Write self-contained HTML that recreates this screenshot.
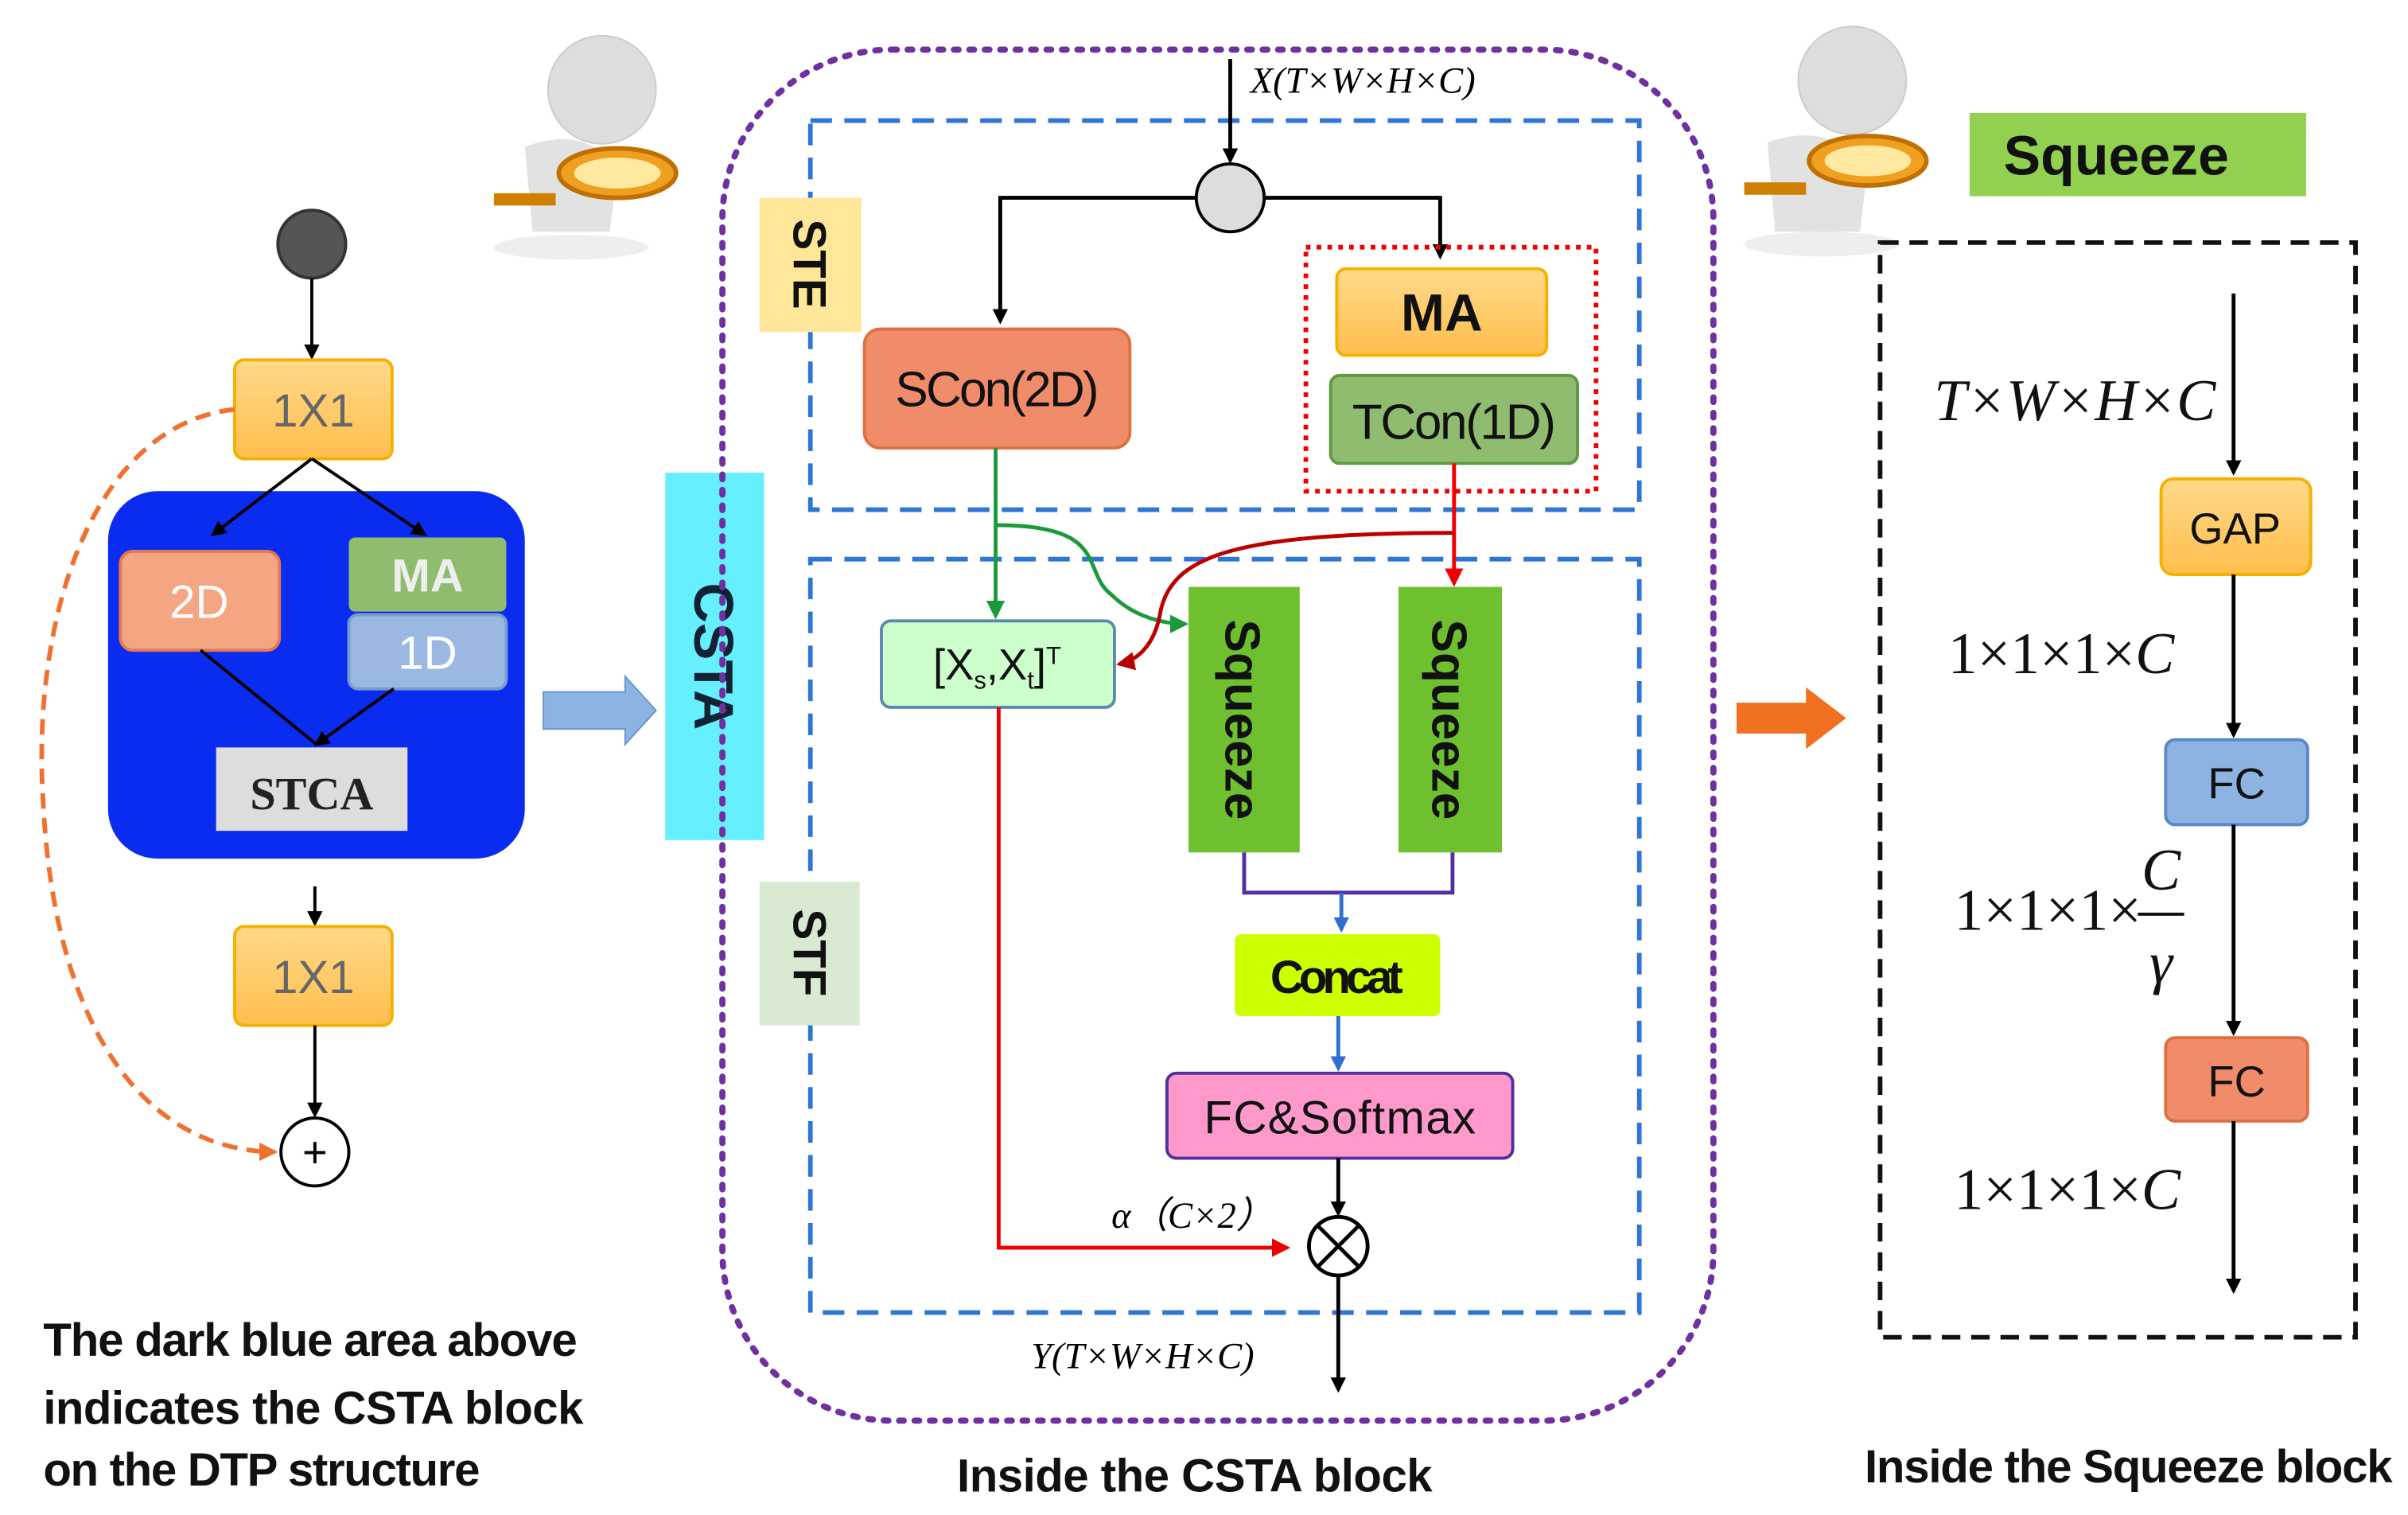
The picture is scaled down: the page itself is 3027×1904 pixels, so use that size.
<!DOCTYPE html>
<html><head><meta charset="utf-8"><style>
html,body{margin:0;padding:0;background:#fff;}
svg{display:block;}
text{font-family:"Liberation Sans",sans-serif;}
.b{font-weight:bold;}
.s{font-family:"Liberation Serif",serif;font-style:italic;}
</style></head><body>
<svg width="3027" height="1904" viewBox="0 0 1560 981" xmlns="http://www.w3.org/2000/svg">
<defs>
<marker id="ak" markerWidth="10" markerHeight="10" refX="8" refY="5" orient="auto" markerUnits="userSpaceOnUse"><path d="M0,0 L10,5 L0,10 z" fill="#000"/></marker>
<marker id="ar" markerWidth="12" markerHeight="12" refX="10" refY="6" orient="auto" markerUnits="userSpaceOnUse"><path d="M0,0 L12,6 L0,12 z" fill="#e00"/></marker>
<marker id="ad" markerWidth="12" markerHeight="12" refX="10" refY="6" orient="auto" markerUnits="userSpaceOnUse"><path d="M0,0 L12,6 L0,12 z" fill="#b00"/></marker>
<marker id="ag" markerWidth="12" markerHeight="12" refX="10" refY="6" orient="auto" markerUnits="userSpaceOnUse"><path d="M0,0 L12,6 L0,12 z" fill="#1a9a3a"/></marker>
<marker id="ab" markerWidth="10" markerHeight="10" refX="8" refY="5" orient="auto" markerUnits="userSpaceOnUse"><path d="M0,0 L10,5 L0,10 z" fill="#2e6fd0"/></marker>
<marker id="ao" markerWidth="12" markerHeight="12" refX="10" refY="6" orient="auto" markerUnits="userSpaceOnUse"><path d="M0,0 L12,6 L0,12 z" fill="#f07030"/></marker>
<linearGradient id="go" x1="0" y1="0" x2="0" y2="1"><stop offset="0" stop-color="#ffd98a"/><stop offset="1" stop-color="#ffbe4d"/></linearGradient>
</defs>

<!-- LEFT -->
<circle cx="202" cy="158" r="22" fill="#555" stroke="#333" stroke-width="2"/>
<line x1="202" y1="180" x2="202" y2="231" stroke="#000" stroke-width="2" marker-end="url(#ak)"/>
<rect x="152" y="233" width="102" height="64" rx="6" fill="url(#go)" stroke="#f5b000" stroke-width="2"/>
<text x="203" y="276" font-size="30" fill="#666" text-anchor="middle">1X1</text>
<rect x="70" y="318" width="270" height="238" rx="32" fill="#0a2cf0"/>
<line x1="202" y1="297" x2="138" y2="346" stroke="#000" stroke-width="2" marker-end="url(#ak)"/>
<line x1="202" y1="297" x2="275" y2="346" stroke="#000" stroke-width="2" marker-end="url(#ak)"/>
<rect x="78" y="357" width="103" height="64" rx="8" fill="#f4a582" stroke="#e67850" stroke-width="2"/>
<text x="129" y="400" font-size="30" fill="#fff" text-anchor="middle">2D</text>
<rect x="226" y="348" width="102" height="48" rx="4" fill="#8fbc6f"/>
<text x="277" y="383" font-size="30" fill="#eee" text-anchor="middle" class="b">MA</text>
<rect x="226" y="398" width="102" height="48" rx="6" fill="#9bb9e0" stroke="#7a9ccc" stroke-width="2"/>
<text x="277" y="433" font-size="30" fill="#fff" text-anchor="middle">1D</text>
<line x1="130" y1="421" x2="205" y2="482" stroke="#000" stroke-width="2"/>
<line x1="255" y1="446" x2="205" y2="482" stroke="#000" stroke-width="2" marker-end="url(#ak)"/>
<rect x="140" y="484" width="124" height="54" fill="#ddd"/>
<text x="202" y="524" font-size="30" fill="#222" text-anchor="middle" font-family="Liberation Serif" style="font-family:'Liberation Serif',serif;font-weight:bold">STCA</text>
<line x1="204" y1="574" x2="204" y2="598" stroke="#000" stroke-width="2" marker-end="url(#ak)"/>
<rect x="152" y="600" width="102" height="64" rx="6" fill="url(#go)" stroke="#f5b000" stroke-width="2"/>
<text x="203" y="643" font-size="30" fill="#666" text-anchor="middle">1X1</text>
<line x1="204" y1="664" x2="204" y2="722" stroke="#000" stroke-width="2" marker-end="url(#ak)"/>
<circle cx="204" cy="746" r="22" fill="#fff" stroke="#000" stroke-width="2"/>
<text x="204" y="756" font-size="28" text-anchor="middle">+</text>
<path d="M152,265 C60,275 20,400 28,520 C35,660 90,745 178,746" fill="none" stroke="#f07030" stroke-width="3" stroke-dasharray="10 6" marker-end="url(#ao)"/>
<text x="28" y="878" font-size="30" class="b" fill="#111" textLength="346">The dark blue area above</text>
<text x="28" y="922" font-size="30" class="b" fill="#111" textLength="350">indicates the CSTA  block</text>
<text x="28" y="962" font-size="30" class="b" fill="#111" textLength="283">on the DTP structure</text>

<path d="M352,448 L405,448 L405,438 L425,460 L405,482 L405,472 L352,472 z" fill="#8db3e2" stroke="#6a95cc"/>
<rect x="431" y="306" width="64" height="238" fill="#66f0ff"/>
<text transform="translate(450,425) rotate(90)" font-size="36" class="b" fill="#123" text-anchor="middle">CSTA</text>

<!-- figures -->
<g>
<ellipse cx="370" cy="160" rx="50" ry="8" fill="#eee"/>
<circle cx="390" cy="58" r="35" fill="#ddd" stroke="#ccc"/>
<path d="M340,95 Q380,80 400,110 L395,150 L345,150 Z" fill="#e2e2e2"/>
<ellipse cx="400" cy="112" rx="38" ry="16" fill="#f0a020" stroke="#c07000" stroke-width="3"/>
<ellipse cx="400" cy="112" rx="28" ry="10" fill="#ffe9a0"/>
<rect x="320" y="125" width="40" height="8" fill="#d08000"/>
</g>
<g>
<ellipse cx="1180" cy="158" rx="50" ry="8" fill="#eee"/>
<circle cx="1200" cy="52" r="35" fill="#ddd" stroke="#ccc"/>
<path d="M1145,92 Q1185,78 1210,108 L1205,150 L1150,150 Z" fill="#e2e2e2"/>
<ellipse cx="1210" cy="104" rx="38" ry="16" fill="#f0a020" stroke="#c07000" stroke-width="3"/>
<ellipse cx="1210" cy="104" rx="28" ry="10" fill="#ffe9a0"/>
<rect x="1130" y="118" width="40" height="8" fill="#d08000"/>
</g>

<!-- MIDDLE -->
<rect x="468" y="32" width="642" height="888" rx="110" fill="none" stroke="#7030a0" stroke-width="4" stroke-dasharray="3 7" stroke-linecap="round"/>
<rect x="525" y="78" width="537" height="252" fill="none" stroke="#2e75d6" stroke-width="3" stroke-dasharray="14 8"/>
<rect x="525" y="362" width="537" height="488" fill="none" stroke="#2e75d6" stroke-width="3" stroke-dasharray="14 8"/>
<rect x="492" y="128" width="66" height="87" fill="#ffe699"/>
<text transform="translate(514,171) rotate(90)" font-size="30" class="b" fill="#111" text-anchor="middle">STE</text>
<rect x="492" y="571" width="65" height="93" fill="#d9ead3"/>
<text transform="translate(514,617) rotate(90)" font-size="30" class="b" fill="#111" text-anchor="middle">STF</text>

<line x1="797" y1="38" x2="797" y2="104" stroke="#000" stroke-width="2.5" marker-end="url(#ak)"/>
<text x="810" y="60" font-size="24" class="s">X(T×W×H×C)</text>
<circle cx="797" cy="128" r="22" fill="#ddd" stroke="#000" stroke-width="2"/>
<polyline points="775,128 648,128 648,208" fill="none" stroke="#000" stroke-width="2.5" marker-end="url(#ak)"/>
<polyline points="819,128 933,128 933,166" fill="none" stroke="#000" stroke-width="2.5" marker-end="url(#ak)"/>
<rect x="846" y="160" width="188" height="158" fill="none" stroke="#e00" stroke-width="3" stroke-dasharray="3 4"/>
<rect x="866" y="174" width="136" height="56" rx="6" fill="url(#go)" stroke="#f5b000" stroke-width="2"/>
<text x="934" y="214" font-size="34" class="b" text-anchor="middle" fill="#111">MA</text>
<rect x="862" y="243" width="160" height="57" rx="6" fill="#8fbc6f" stroke="#5f9a40" stroke-width="2"/>
<text x="942" y="284" font-size="32" text-anchor="middle" fill="#111" textLength="132">TCon(1D)</text>
<rect x="560" y="213" width="172" height="77" rx="10" fill="#f08c6a" stroke="#e07040" stroke-width="2"/>
<text x="646" y="263" font-size="32" text-anchor="middle" fill="#111" textLength="132">SCon(2D)</text>

<line x1="645" y1="290" x2="645" y2="399" stroke="#1a9a3a" stroke-width="2.5" marker-end="url(#ag)"/>
<path d="M645,340 C720,340 700,370 720,385 C735,400 755,404 768,404" fill="none" stroke="#1a9a3a" stroke-width="2.5" marker-end="url(#ag)"/>
<line x1="942" y1="300" x2="942" y2="378" stroke="#e00" stroke-width="2.5" marker-end="url(#ar)"/>
<path d="M942,345 C800,345 760,360 752,395 C748,420 735,428 725,430" fill="none" stroke="#b00" stroke-width="2.5" marker-end="url(#ad)"/>

<rect x="571" y="402" width="151" height="56" rx="6" fill="#ccffcc" stroke="#5a8ab0" stroke-width="2"/>
<text x="646" y="440" font-size="28" text-anchor="middle" fill="#111">[X<tspan font-size="16" dy="6">s</tspan><tspan dy="-6">,X</tspan><tspan font-size="16" dy="6">t</tspan><tspan dy="-6">]</tspan><tspan font-size="16" dy="-10">T</tspan></text>

<rect x="770" y="380" width="72" height="172" fill="#6fc02f"/>
<text transform="translate(794,466) rotate(90)" font-size="32" class="b" text-anchor="middle" fill="#111">Squeeze</text>
<rect x="906" y="380" width="67" height="172" fill="#6fc02f"/>
<text transform="translate(928,466) rotate(90)" font-size="32" class="b" text-anchor="middle" fill="#111">Squeeze</text>
<polyline points="806,552 806,578 941,578 941,552" fill="none" stroke="#5030a0" stroke-width="2.5"/>
<line x1="869" y1="578" x2="869" y2="602" stroke="#2e6fd0" stroke-width="2.5" marker-end="url(#ab)"/>
<rect x="800" y="605" width="133" height="53" rx="4" fill="#ccff00"/>
<text x="866" y="643" font-size="30" class="b" text-anchor="middle" fill="#111" textLength="86">Concat</text>
<line x1="867" y1="658" x2="867" y2="692" stroke="#2e6fd0" stroke-width="2.5" marker-end="url(#ab)"/>
<rect x="756" y="695" width="224" height="55" rx="6" fill="#ff99cc" stroke="#5030a0" stroke-width="2"/>
<text x="868" y="734" font-size="30" text-anchor="middle" fill="#111" textLength="176">FC&amp;Softmax</text>
<line x1="867" y1="750" x2="867" y2="786" stroke="#000" stroke-width="2.5" marker-end="url(#ak)"/>
<circle cx="867" cy="807" r="19" fill="#fff" stroke="#000" stroke-width="2.5"/>
<line x1="854" y1="794" x2="880" y2="820" stroke="#000" stroke-width="2.5"/>
<line x1="880" y1="794" x2="854" y2="820" stroke="#000" stroke-width="2.5"/>
<polyline points="647,458 647,808 834,808" fill="none" stroke="#e00" stroke-width="2.5" marker-end="url(#ar)"/>
<text x="720" y="795" font-size="24" class="s">α（C×2）</text>
<line x1="867" y1="826" x2="867" y2="900" stroke="#000" stroke-width="2.5" marker-end="url(#ak)"/>
<text x="668" y="886" font-size="24" class="s">Y(T×W×H×C)</text>
<text x="620" y="966" font-size="30" class="b" fill="#111" textLength="308">Inside the CSTA  block</text>

<!-- RIGHT -->
<path d="M1125,455 L1170,455 L1170,445 L1196,465 L1170,485 L1170,475 L1125,475 z" fill="#f07020"/>
<rect x="1276" y="73" width="218" height="54" fill="#92d050"/>
<text x="1371" y="113" font-size="36" class="b" text-anchor="middle" fill="#111">Squeeze</text>
<rect x="1218" y="157" width="308" height="709" fill="none" stroke="#111" stroke-width="3" stroke-dasharray="12 7"/>
<line x1="1447" y1="190" x2="1447" y2="306" stroke="#000" stroke-width="2.5" marker-end="url(#ak)"/>
<rect x="1400" y="310" width="97" height="62" rx="8" fill="url(#go)" stroke="#f5b000" stroke-width="2"/>
<text x="1448" y="352" font-size="28" text-anchor="middle" fill="#111">GAP</text>
<line x1="1447" y1="372" x2="1447" y2="476" stroke="#000" stroke-width="2.5" marker-end="url(#ak)"/>
<rect x="1403" y="479" width="92" height="55" rx="6" fill="#8db3e2" stroke="#5a88c8" stroke-width="2"/>
<text x="1449" y="517" font-size="28" text-anchor="middle" fill="#111">FC</text>
<line x1="1447" y1="534" x2="1447" y2="669" stroke="#000" stroke-width="2.5" marker-end="url(#ak)"/>
<rect x="1403" y="672" width="92" height="54" rx="6" fill="#f08c6a" stroke="#e07040" stroke-width="2"/>
<text x="1449" y="710" font-size="28" text-anchor="middle" fill="#111">FC</text>
<line x1="1447" y1="726" x2="1447" y2="836" stroke="#000" stroke-width="2.5" marker-end="url(#ak)"/>
<text x="1253" y="272" font-size="38" class="s" fill="#111">T×W×H×C</text>
<text x="1262" y="436" font-size="38" style="font-family:'Liberation Serif',serif" fill="#111">1×1×1×<tspan font-style="italic">C</tspan></text>
<text x="1266" y="602" font-size="38" style="font-family:'Liberation Serif',serif" fill="#111">1×1×1×</text>
<text x="1400" y="576" font-size="38" class="s" text-anchor="middle" fill="#111">C</text>
<line x1="1385" y1="592" x2="1415" y2="592" stroke="#111" stroke-width="2"/>
<text x="1400" y="636" font-size="38" class="s" text-anchor="middle" fill="#111">γ</text>
<text x="1266" y="783" font-size="38" style="font-family:'Liberation Serif',serif" fill="#111">1×1×1×<tspan font-style="italic">C</tspan></text>
<text x="1208" y="960" font-size="30" class="b" fill="#111" textLength="342">Inside the Squeeze block</text>
</svg>
</body></html>
